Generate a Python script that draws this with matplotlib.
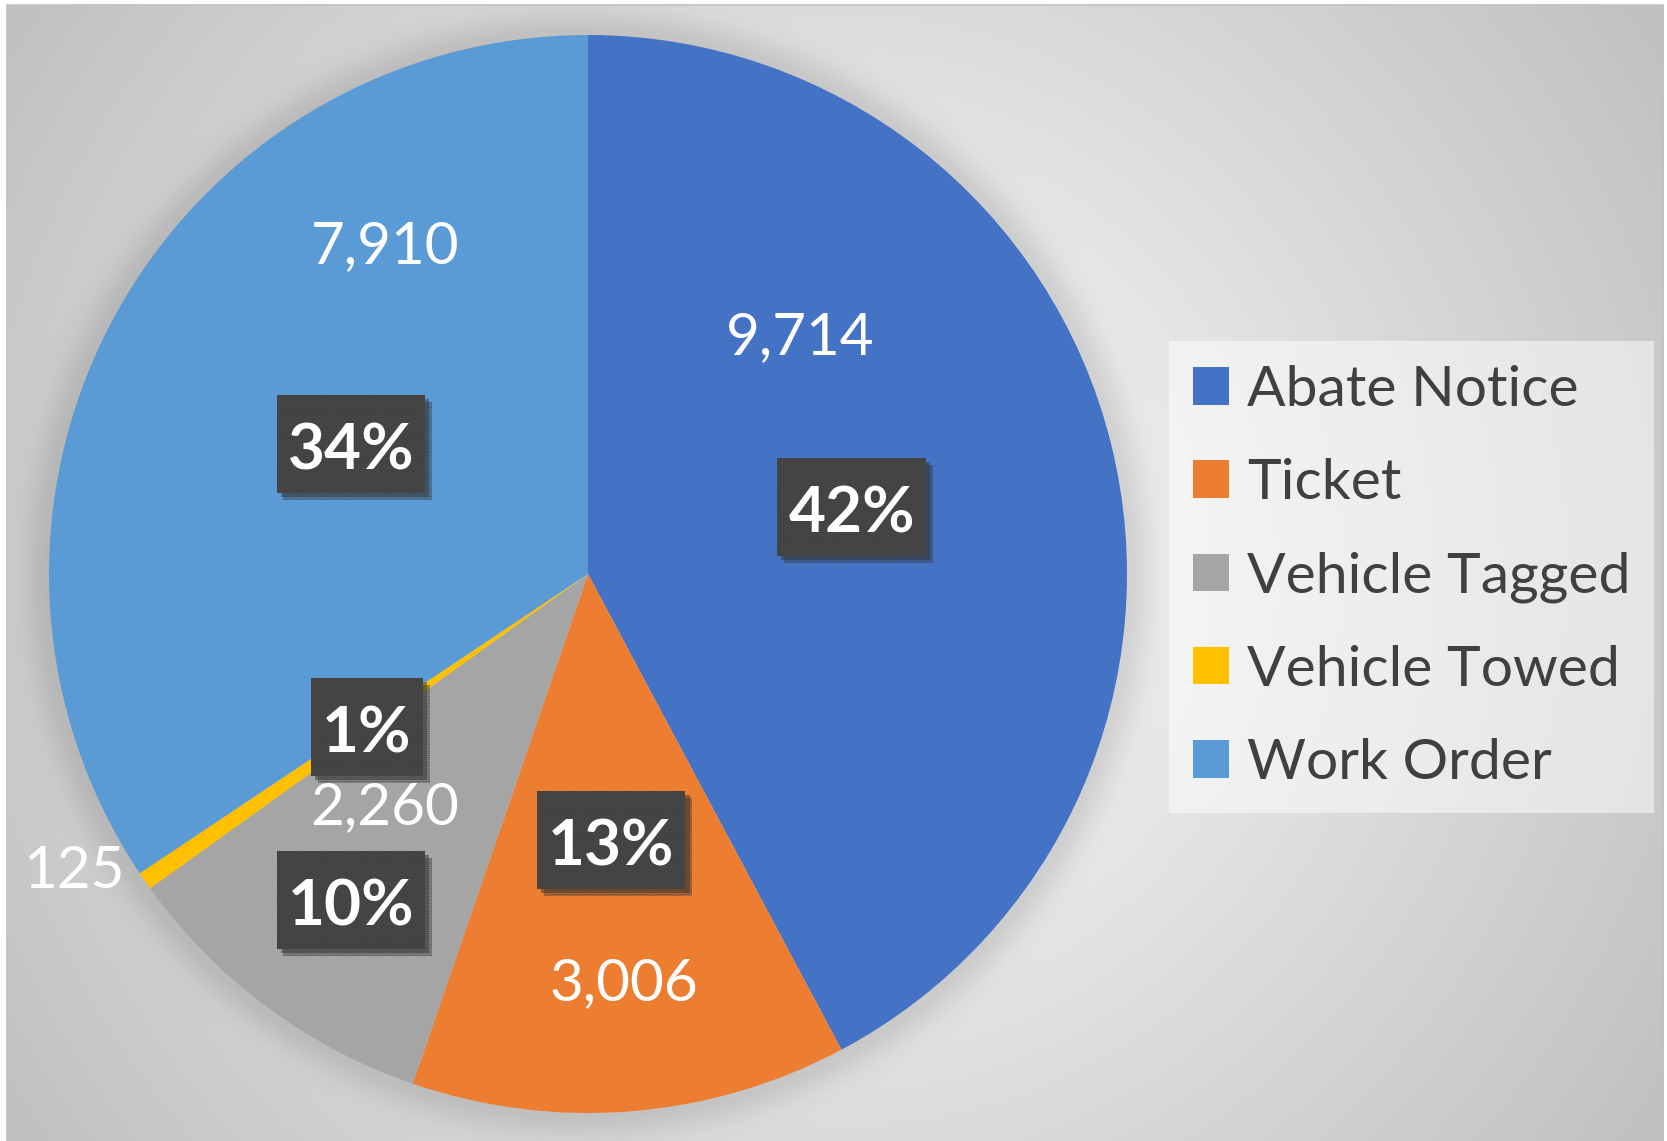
import numpy as np
import matplotlib.pyplot as plt
import matplotlib.patheffects as pe
from matplotlib.patches import Rectangle

categories = ['Abate Notice', 'Ticket', 'Vehicle Tagged', 'Vehicle Towed', 'Work Order']
counts = [9714, 3006, 2260, 125, 7910]
colors = ['#4472C4', '#ED7D31', '#A5A5A5', '#FFC000', '#5B9BD5']

# where the labels sit, in pie radii from the centre
value_pos = [(0.393, 0.438), (0.067, -0.759), (-0.377, -0.434), (-0.953, -0.552), (-0.377, 0.607)]
pct_pos = [(0.489, 0.120), (0.043, -0.497), (-0.440, -0.608), (-0.410, -0.288), (-0.440, 0.237)]

W, H = 1667, 1141
cx, cy, R = 588, H - 574, 539

plt.rcParams['font.family'] = ['Lato', 'DejaVu Sans']
plt.rcParams['hatch.linewidth'] = 0.6
fig = plt.figure(figsize=(W / 100, H / 100), dpi=100)
ax = fig.add_axes([0, 0, 1, 1])

# background: radial grey gradient with a soft shadow round the pie
yy, xx = np.mgrid[0:H, 0:W].astype(float)
d = np.hypot(xx - 834, yy - 570)
g = 1 - 0.25 * d / d.max()
dp = np.hypot(xx - cx, yy - (H - cy))
shade = np.where(dp > R, 0.11 * np.exp(-((dp - R) / 24) ** 2), 0.11)
g = g * (1 - shade)
outside = (xx < 7) | (xx > 1663) | (yy < 5)
g[outside] = 1
img = np.dstack([g, g, g])
ax.imshow(img, extent=(0, W, 0, H), origin='upper', zorder=0, interpolation='bilinear')
ax.add_patch(Rectangle((7, -5), 1656, H, fill=False, ec='#c0c0c0', lw=1.2, zorder=0.5))

wedges, _ = ax.pie(counts, colors=colors, startangle=90, counterclock=False,
                   center=(cx, cy), radius=R, wedgeprops=dict(linewidth=0))

total = sum(counts)
pct_texts = []
for c, (vx, vy), (px, py) in zip(counts, value_pos, pct_pos):
    ax.text(cx + vx * R, cy + vy * R, f'{c:,}', ha='center', va='center',
            fontsize=42, color='white', zorder=5)
    t = ax.text(cx + px * R, cy + py * R, f'{round(c / total * 100)}%', ha='center',
                va='center_baseline', fontsize=46, fontweight='bold', color='white', zorder=7)
    pct_texts.append(t)

ax.set_xlim(0, W)
ax.set_ylim(0, H)
ax.axis('off')

# dark boxes behind the percentages, sized from the rendered text
fig.canvas.draw()
inv = ax.transData.inverted()
for t in pct_texts:
    bb = t.get_window_extent().transformed(inv)
    x, y = t.get_position()
    bw, bh = bb.width + 22, 98
    box = Rectangle((x - bw / 2, y - bh / 2 + 2), bw, bh, fc='#404040', ec='#4e4e4e',
                    lw=0, hatch='.........', zorder=6)
    box.set_path_effects([
        pe.SimplePatchShadow(offset=(5, -5), shadow_rgbFace='black', alpha=0.18),
        pe.SimplePatchShadow(offset=(3, -3), shadow_rgbFace='black', alpha=0.25),
        pe.Normal()])
    ax.add_patch(box)

ax.legend(wedges, categories, loc='upper left', bbox_to_anchor=(1169 / W, 1 - 341 / H),
          fontsize=41, labelcolor='#404040', frameon=True, facecolor='white', framealpha=0.5,
          edgecolor='none', fancybox=False, handlelength=0.63, handleheight=0.63,
          handletextpad=0.32, labelspacing=0.74, borderpad=0.42, borderaxespad=0)

fig.savefig('out.png', dpi=100)
